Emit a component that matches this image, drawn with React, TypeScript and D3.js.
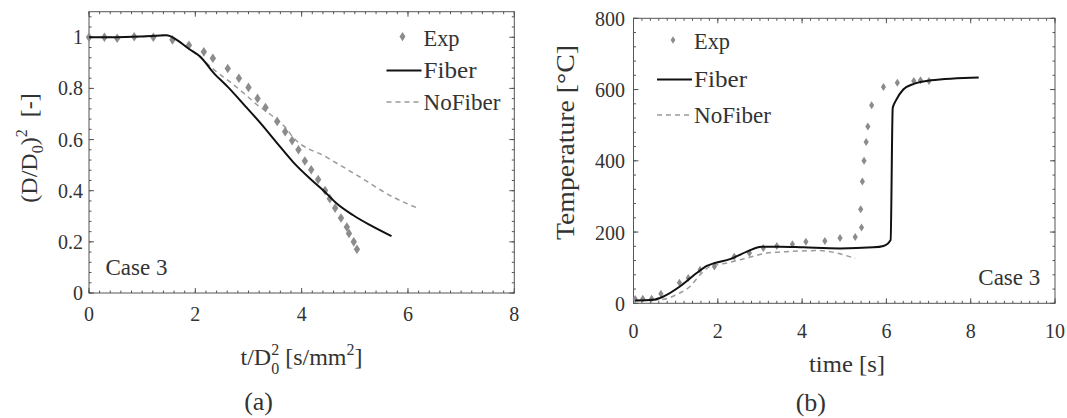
import React from "react";
import * as d3 from "d3";

// ---------- data: panel (a) ----------
const A_EXP_X = [0, 0.29, 0.53, 0.85, 1.21, 1.57, 1.88, 2.16, 2.33, 2.61, 2.82, 3.0, 3.17, 3.32, 3.54, 3.69, 3.82, 3.94, 4.06, 4.18, 4.31, 4.44, 4.53, 4.63, 4.74, 4.85, 4.89, 4.98, 5.04];
const A_EXP_Y = [1.0, 1.0, 0.996, 1.002, 1.0, 0.99, 0.969, 0.943, 0.918, 0.878, 0.84, 0.804, 0.761, 0.725, 0.671, 0.631, 0.596, 0.56, 0.516, 0.482, 0.444, 0.401, 0.369, 0.332, 0.293, 0.258, 0.233, 0.2, 0.171];
const A_FIB_X = [0, 0.5, 1.0, 1.46, 1.65, 1.87, 2.09, 2.34, 2.62, 2.93, 3.23, 3.55, 3.84, 4.16, 4.41, 4.66, 4.97, 5.29, 5.69];
const A_FIB_Y = [1.0, 1.0, 1.003, 1.008, 0.99, 0.956, 0.925, 0.862, 0.804, 0.733, 0.663, 0.583, 0.512, 0.447, 0.401, 0.35, 0.304, 0.265, 0.222];
const A_NOF_X = [0, 0.5, 1.0, 1.46, 1.65, 1.87, 2.1, 2.4, 2.68, 2.93, 3.18, 3.44, 3.69, 3.84, 4.47, 5.1, 5.72, 6.16];
const A_NOF_Y = [1.0, 1.0, 1.003, 1.008, 0.99, 0.958, 0.92, 0.865, 0.821, 0.778, 0.733, 0.694, 0.648, 0.609, 0.531, 0.453, 0.375, 0.334];

// ---------- data: panel (b) ----------
const B_EXP_X = [0.04, 0.22, 0.43, 0.65, 1.09, 1.3, 1.58, 1.92, 2.39, 2.75, 3.08, 3.4, 3.77, 4.09, 4.54, 4.9, 5.26, 5.41, 5.39, 5.43, 5.47, 5.52, 5.56, 5.65, 5.93, 6.26, 6.65, 6.81, 7.01];
const B_EXP_Y = [12, 13, 13, 27, 58, 71, 94, 103, 131, 141, 155, 161, 166, 173, 175, 183, 186, 213, 264, 342, 400, 453, 496, 556, 607, 619, 624, 626, 624];
const B_FIB_X = [0.04, 0.47, 0.71, 1.1, 1.5, 1.74, 1.93, 2.29, 2.69, 3.04, 3.48, 4.03, 4.9, 5.69, 5.93, 6.1, 6.15, 6.22, 6.4, 6.65, 7.05, 8.19];
const B_FIB_Y = [8, 10, 19, 47, 85, 105, 113, 124, 145, 159, 159, 157, 154, 157, 161, 178, 548, 568, 600, 616, 626, 634];
const B_NOF_X = [0.04, 0.63, 1.1, 1.34, 1.58, 1.81, 2.21, 2.69, 3.16, 3.63, 4.42, 4.74, 5.26];
const B_NOF_Y = [8, 10, 29, 47, 80, 103, 113, 127, 141, 145, 148, 143, 126];

// ---------- ticks ----------
const A_X_TICKS = [0, 2, 4, 6, 8];
const A_X_LABELS = ["0", "2", "4", "6", "8"];
const A_Y_TICKS = [0, 0.2, 0.4, 0.6, 0.8, 1];
const A_Y_LABELS = ["0", "0.2", "0.4", "0.6", "0.8", "1"];
const B_X_TICKS = [0, 2, 4, 6, 8, 10];
const B_X_LABELS = ["0", "2", "4", "6", "8", "10"];
const B_Y_TICKS = [0, 200, 400, 600, 800];
const B_Y_LABELS = ["0", "200", "400", "600", "800"];

const FONT = "'Liberation Serif', 'DejaVu Serif', serif";
const TXT = "#333";
const GRAY = "#8c8c8c";
const DASH = "#9a9a9a";
const AX = "#555";

type Pt = [number, number];
const zip = (xs: number[], ys: number[]): Pt[] => xs.map((x, i) => [x, ys[i]]);

function Frame({ x, y, xMajor, xMinor, yMajor, yMinor }: any) {
  const [x0, x1] = x.range();
  const [y0, y1] = y.range();
  const ML = 5, mL = 2.5;
  const els: any[] = [];
  xMinor.forEach((v: number, i: number) => {
    const px = x(v);
    els.push(<line key={"xm" + i} x1={px} x2={px} y1={y0} y2={y0 - mL} />);
    els.push(<line key={"xmt" + i} x1={px} x2={px} y1={y1} y2={y1 + mL} />);
  });
  xMajor.forEach((v: number, i: number) => {
    const px = x(v);
    els.push(<line key={"xM" + i} x1={px} x2={px} y1={y0} y2={y0 - ML} />);
    els.push(<line key={"xMt" + i} x1={px} x2={px} y1={y1} y2={y1 + ML} />);
  });
  yMinor.forEach((v: number, i: number) => {
    const py = y(v);
    els.push(<line key={"ym" + i} x1={x0} x2={x0 + mL} y1={py} y2={py} />);
    els.push(<line key={"ymr" + i} x1={x1} x2={x1 - mL} y1={py} y2={py} />);
  });
  yMajor.forEach((v: number, i: number) => {
    const py = y(v);
    els.push(<line key={"yM" + i} x1={x0} x2={x0 + ML} y1={py} y2={py} />);
    els.push(<line key={"yMr" + i} x1={x1} x2={x1 - ML} y1={py} y2={py} />);
  });
  return (
    <g stroke={AX} strokeWidth={1} fill="none">
      {els}
      <rect x={x0} y={y1} width={x1 - x0} height={y0 - y1} />
    </g>
  );
}

function Diamond({ cx, cy, w, h }: any) {
  return <path d={`M${cx},${cy - h}L${cx + w},${cy}L${cx},${cy + h}L${cx - w},${cy}Z`} fill={GRAY} />;
}

function Legend({ x0, ys, dw, dh }: any) {
  return (
    <g style={{ fontFamily: FONT }} fill={TXT} fontSize={23}>
      <Diamond cx={x0 - 21} cy={ys[0] - 9} w={dw} h={dh} />
      <text x={x0} y={ys[0]} textLength={36} lengthAdjust="spacingAndGlyphs">Exp</text>
      <line x1={x0 - 37} x2={x0 - 2} y1={ys[1] - 7.5} y2={ys[1] - 7.5} stroke="#111" strokeWidth={2} />
      <text x={x0} y={ys[1]} textLength={53} lengthAdjust="spacingAndGlyphs">Fiber</text>
      <line x1={x0 - 37} x2={x0 - 2} y1={ys[2] - 8} y2={ys[2] - 8} stroke={DASH} strokeWidth={1.5} strokeDasharray="5 4" />
      <text x={x0} y={ys[2]} textLength={77} lengthAdjust="spacingAndGlyphs">NoFiber</text>
    </g>
  );
}

export default function App() {
  const ax = d3.scaleLinear().domain([0, 8]).range([89, 514.3]);
  const ay = d3.scaleLinear().domain([0, 1.1]).range([293, 11.7]);
  const bx = d3.scaleLinear().domain([0, 10]).range([633.5, 1055]);
  const by = d3.scaleLinear().domain([0, 800]).range([303.3, 18.3]);

  const lineA = d3.line<Pt>().x((d) => ax(d[0])).y((d) => ay(d[1])).curve(d3.curveMonotoneX);
  const lineB = d3.line<Pt>().x((d) => bx(d[0])).y((d) => by(d[1])).curve(d3.curveMonotoneX);

  const aXMinor = d3.range(0, 8.001, 0.2);
  const aYMinor = d3.range(0, 1.1, 0.04);
  const bXMinor = d3.range(0, 10.001, 0.2);
  const bYMinor = d3.range(0, 800.1, 40);

  const T = { fontFamily: FONT } as React.CSSProperties;

  return (
    <svg width={1067} height={418} style={{ position: "absolute", left: 0, top: 0, background: "#fff", fontFamily: FONT }}>
      <rect width={1067} height={418} fill="#fff" />

      {/* ===== panel (a) ===== */}
      <Frame x={ax} y={ay} xMajor={A_X_TICKS} xMinor={aXMinor} yMajor={A_Y_TICKS} yMinor={aYMinor} />
      <path d={lineA(zip(A_NOF_X, A_NOF_Y)) || ""} fill="none" stroke={DASH} strokeWidth={1.5} strokeDasharray="5 4" />
      {zip(A_EXP_X, A_EXP_Y).map((d, i) => (
        <Diamond key={i} cx={ax(d[0])} cy={ay(d[1])} w={3.2} h={4.8} />
      ))}
      <path d={lineA(zip(A_FIB_X, A_FIB_Y)) || ""} fill="none" stroke="#111" strokeWidth={2} />
      <g style={T} fill={TXT} fontSize={20}>
        {A_X_TICKS.map((v, i) => (
          <text key={i} x={ax(v)} y={321} textAnchor="middle">{A_X_LABELS[i]}</text>
        ))}
        {A_Y_TICKS.map((v, i) => (
          <text key={i} x={83} y={ay(v) + 7} textAnchor="end">{A_Y_LABELS[i]}</text>
        ))}
      </g>
      <Legend x0={423.5} ys={[45.6, 78, 110]} dw={3} dh={4.6} />
      <text style={T} x={105.5} y={275} fill={TXT} fontSize={23} textLength={62} lengthAdjust="spacingAndGlyphs">Case 3</text>
      <text style={T} x={301.5} y={365} fill={TXT} fontSize={24} textAnchor="middle">
        t/D<tspan fontSize={16} dy={-10}>2</tspan>
        <tspan fontSize={16} dx={-8} dy={19}>0</tspan>
        <tspan dy={-9}>{"\u00A0[s/mm"}</tspan>
        <tspan fontSize={16} dy={-10}>2</tspan>
        <tspan dy={10}>]</tspan>
      </text>
      <text style={T} transform="translate(37,148) rotate(-90)" fill={TXT} fontSize={24} textAnchor="middle">
        (D/D<tspan fontSize={16} dy={6}>0</tspan>
        <tspan dy={-6}>)</tspan>
        <tspan fontSize={16} dy={-10}>2</tspan>
        <tspan dy={10}>{"\u00A0\u00A0[-]"}</tspan>
      </text>
      <text style={T} x={258.6} y={410} fill={TXT} fontSize={26} textAnchor="middle">(a)</text>

      {/* ===== panel (b) ===== */}
      <Frame x={bx} y={by} xMajor={B_X_TICKS} xMinor={bXMinor} yMajor={B_Y_TICKS} yMinor={bYMinor} />
      <path d={lineB(zip(B_NOF_X, B_NOF_Y)) || ""} fill="none" stroke={DASH} strokeWidth={1.5} strokeDasharray="5 4" />
      {zip(B_EXP_X, B_EXP_Y).map((d, i) => (
        <Diamond key={i} cx={bx(d[0])} cy={by(d[1])} w={2.6} h={4} />
      ))}
      <path d={lineB(zip(B_FIB_X, B_FIB_Y)) || ""} fill="none" stroke="#111" strokeWidth={2} />
      <g style={T} fill={TXT} fontSize={20}>
        {B_X_TICKS.map((v, i) => (
          <text key={i} x={bx(v)} y={338} textAnchor="middle">{B_X_LABELS[i]}</text>
        ))}
        {B_Y_TICKS.map((v, i) => (
          <text key={i} x={625} y={by(v) + 7.5} textAnchor="end">{B_Y_LABELS[i]}</text>
        ))}
      </g>
      <Legend x0={694} ys={[49, 87, 123]} dw={2.4} dh={3.8} />
      <text style={T} x={978.3} y={285} fill={TXT} fontSize={23} textLength={62} lengthAdjust="spacingAndGlyphs">Case 3</text>
      <text style={T} x={847} y={372} fill={TXT} fontSize={24} textAnchor="middle" textLength={76} lengthAdjust="spacingAndGlyphs">time [s]</text>
      <text style={T} transform="translate(574,142.5) rotate(-90)" fill={TXT} fontSize={25} textAnchor="middle" textLength={195} lengthAdjust="spacingAndGlyphs">Temperature [°C]</text>
      <text style={T} x={810.8} y={411} fill={TXT} fontSize={26} textAnchor="middle">(b)</text>
    </svg>
  );
}
